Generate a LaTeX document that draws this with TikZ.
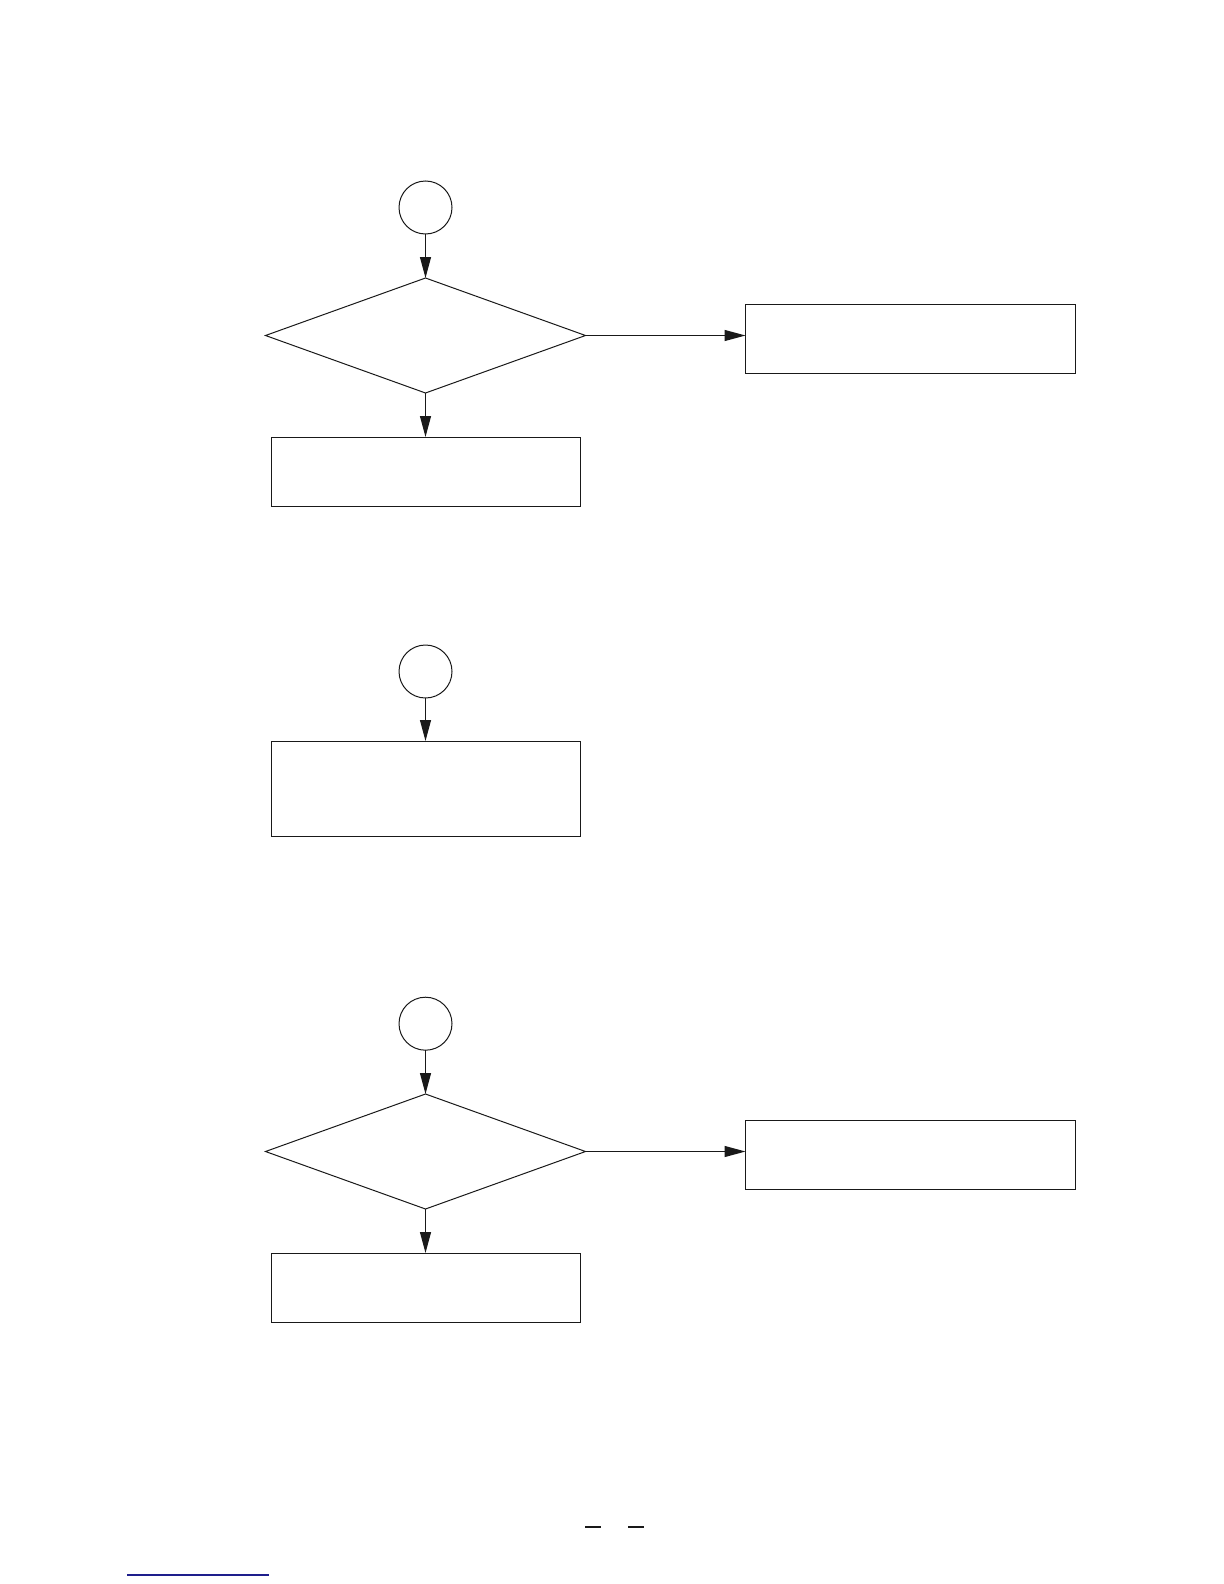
\documentclass[tikz,border=0pt]{standalone}
\usetikzlibrary{shapes.geometric,arrows.meta}
\definecolor{linkblue}{RGB}{30,30,140}
\tikzset{
  base/.style={draw=black!90, line width=0.5pt, inner sep=0pt, outer sep=0pt},
  conn/.style={base, circle, minimum size=26.5pt},
  decision/.style={base, diamond, minimum width=160pt, minimum height=57.5pt},
  procbox/.style={base, rectangle, minimum width=154.5pt, minimum height=34.5pt},
  widebox/.style={base, rectangle, minimum width=165pt, minimum height=34.5pt},
  tallbox/.style={base, rectangle, minimum width=154.5pt, minimum height=47.5pt},
  arr/.style={draw=black!90, line width=0.6pt, -{Triangle[length=10.5pt,width=5.5pt]}}
}
\begin{document}
\begin{tikzpicture}[x=0.5pt,y=-0.5pt]
\useasboundingbox (0,0) rectangle (1224,1584);
% section 1
\node[conn] (c1) at (425.5,207.5) {};
\node[decision] (d1) at (425.5,335.5) {};
\node[widebox] (r1) at (910.5,338.5) {};
\node[procbox] (b1) at (425.5,471.5) {};
\draw[arr] (c1) -- (d1.north);
\draw[arr] (d1.east) -- (d1.east -| r1.west);
\draw[arr] (d1.south) -- (b1.north);
% section 2
\node[conn] (c2) at (425.5,671.5) {};
\node[tallbox] (b2) at (425.5,788.5) {};
\draw[arr] (c2) -- (b2.north);
% section 3
\node[conn] (c3) at (425.5,1023.7) {};
\node[decision] (d3) at (425.5,1151.5) {};
\node[widebox] (r3) at (910.5,1154.5) {};
\node[procbox] (b3) at (425.5,1287.5) {};
\draw[arr] (c3) -- (d3.north);
\draw[arr] (d3.east) -- (d3.east -| r3.west);
\draw[arr] (d3.south) -- (b3.north);
% page footer marks
\draw[line width=0.75pt, black!90] (585,1527) -- (601,1527);
\draw[line width=0.75pt, black!90] (628,1527) -- (644,1527);
\draw[line width=1pt, linkblue] (127,1575) -- (269,1575);
\end{tikzpicture}
\end{document}
